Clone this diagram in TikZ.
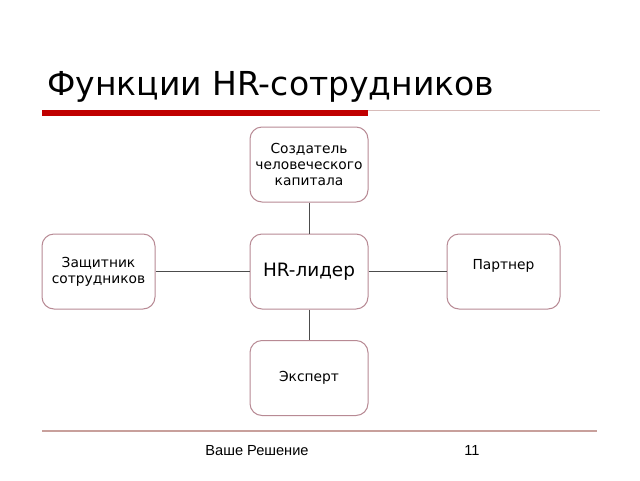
\documentclass[tikz,border=0pt]{standalone}
\usepackage{fontspec}
\setmainfont{DejaVu Sans}
\newfontfamily\footfont{Liberation Sans}

\definecolor{boxline}{HTML}{B88A94}
\definecolor{titlered}{HTML}{C00000}
\definecolor{footrule}{HTML}{C8A09C}

\begin{document}
\begin{tikzpicture}[x=1pt,y=-1pt]
	\useasboundingbox (0,0) rectangle (640,480);
	\fill[white] (0,0) rectangle (640,480);

	% title
	\node (title) [anchor=base west,inner sep=0pt,font=\fontsize{33}{38}\selectfont] at (47,95) {Функции HR-сотрудников};
	\fill[titlered] (42,110) rectangle (368,116);
	\draw[footrule!70,line width=0.8pt] (368,110.5) -- (600,110.5);

	\begin{scope}[every node/.style={rectangle,rounded corners=12pt,draw=boxline,line width=1pt,
			minimum width=118pt,minimum height=75pt,align=center,font=\fontsize{13.8}{16}\selectfont}]
		\node (lead) at (309,271.5) {\fontsize{18.4}{21}\selectfont HR-лидер};
		\node (creator) at (309,164.5) {Создатель\\человеческого\\капитала};
		\node (guard) [minimum width=113pt] at (98.5,271.5) {Защитник\\сотрудников};
		\node (partner) [minimum width=113pt] at (503.5,271.5) {Партнер\\[-2pt]};
		\node (expert) at (309,378) {Эксперт};
	\end{scope}

	\begin{scope}[every edge/.style={draw=black!70,line width=0.9pt}]
		\path (creator) edge (lead);
		\path (guard) edge (lead);
		\path (lead) edge (partner);
		\path (lead) edge (expert);
	\end{scope}

	% footer
	\draw[footrule,line width=1.5pt] (42,431) -- (597,431);
	\node (foot) [anchor=base,inner sep=0pt,font=\footfont\fontsize{14.6}{18}\selectfont] at (257,455) {Ваше Решение};
	\node (page) [anchor=base,inner sep=0pt,font=\footfont\fontsize{14.6}{18}\selectfont] at (472,455) {11};
\end{tikzpicture}
\end{document}
